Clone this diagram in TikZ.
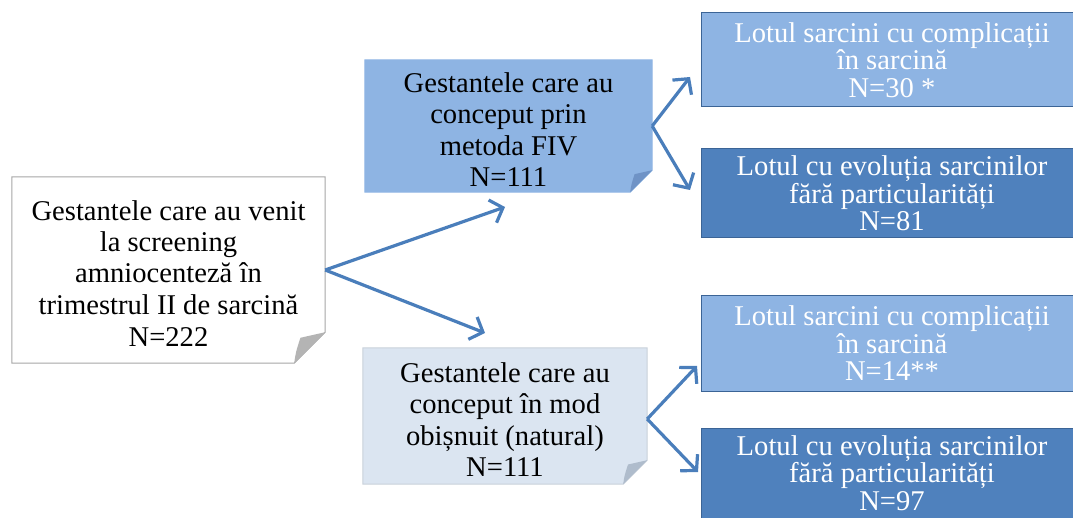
\documentclass[tikz,border=0pt]{standalone}
\usepackage{fontspec}
\setmainfont{Liberation Serif}
\usetikzlibrary{arrows.meta,backgrounds,calc}
\definecolor{arrowblue}{HTML}{4A7EBB}
\definecolor{midblue}{HTML}{8EB4E3}
\definecolor{darkblue}{HTML}{4F81BD}
\definecolor{paleblue}{HTML}{DBE5F1}
\definecolor{edgeblue}{HTML}{3B6496}
\definecolor{edgegray}{HTML}{A6A6A6}
\definecolor{foldgray}{HTML}{B4B4B4}
\definecolor{foldmid}{HTML}{6F93C6}
\definecolor{foldpale}{HTML}{AFBCCC}
\begin{document}
\begin{tikzpicture}[x=1pt,y=-1pt,
	txt/.style={align=center,font=\fontsize{28.6}{31.5}\selectfont,inner sep=0pt},
	fold/.style={txt,minimum width=#1},
	rbox/.style={txt,font=\fontsize{28.6}{27.5}\selectfont,draw=edgeblue,line width=1pt,
		text=white,minimum width=382pt},
	arr/.style={arrowblue,line width=3.2pt,-{Straight Barb[length=11pt,width=24pt]}}]
	\useasboundingbox (0,0) rectangle (1073,518);
	\clip (0,0) rectangle (1073,518);
	% folded notes
	\node[fold=313pt,minimum height=186pt] (src) at (168.5,270)
		{\rule{0pt}{26pt}Gestantele care au venit\\la screening\\amniocenteză în\\trimestrul II de sarcină\\N=222};
	\node[fold=287pt,minimum height=132pt] (fiv) at (508.5,126)
		{\rule{0pt}{27pt}Gestantele care au\\conceput prin\\metoda FIV\\N=111};
	\node[fold=284pt,minimum height=136pt] (nat) at (505,416)
		{\rule{0pt}{27pt}Gestantele care au\\conceput în mod\\obișnuit (natural)\\N=111};
	\begin{scope}[on background layer]
		\foreach \n/\d/\c/\b/\f in {src/31/white/edgegray/foldgray,
			fiv/22/midblue/midblue/foldmid, nat/24/paleblue/paleblue!80!gray/foldpale}{
			\filldraw[fill=\c,draw=\b,line width=1pt] (\n.north west) -- (\n.north east)
				-- ($(\n.south east)+(0,-\d)$) -- ($(\n.south east)+(-\d,0)$) -- (\n.south west) -- cycle;
			\fill[\f] ($(\n.south east)+(-\d,0)$) .. controls ($(\n.south east)+(-0.95*\d,-0.35*\d)$)
				.. ($(\n.south east)+(-0.8*\d,-0.82*\d)$) -- ($(\n.south east)+(0,-\d)$) -- cycle;
		}
	\end{scope}
	% groups
	\node[rbox,fill=midblue,minimum height=94pt] (fivc) at (892,60)
		{Lotul sarcini cu complicații\\în sarcină\\N=30 *};
	\node[rbox,fill=darkblue,minimum height=89pt] (fivn) at (892,193.5)
		{Lotul cu evoluția sarcinilor\\fără particularități\\N=81};
	\node[rbox,fill=midblue,minimum height=95pt] (natc) at (892,343.5)
		{Lotul sarcini cu complicații\\în sarcină\\N=14**};
	\node[rbox,fill=darkblue,minimum height=90pt] (natn) at (892,473)
		{Lotul cu evoluția sarcinilor\\fără particularități\\N=97};
	% arrows
	\coordinate (tofiv) at (505,207);
	\coordinate (tonat) at (485,333);
	\coordinate (tofivc) at (690,77);
	\coordinate (tofivn) at (690,190);
	\coordinate (tonatc) at (697,366);
	\coordinate (tonatn) at (698,472);
	\draw[arr] (src.east) -- (tofiv);
	\draw[arr] (src.east) -- (tonat);
	\draw[arr] (fiv.east) -- (tofivc);
	\draw[arr] (fiv.east) -- (tofivn);
	\draw[arr] ([yshift=-3pt]nat.east) -- (tonatc);
	\draw[arr] ([yshift=-3pt]nat.east) -- (tonatn);
\end{tikzpicture}
\end{document}
